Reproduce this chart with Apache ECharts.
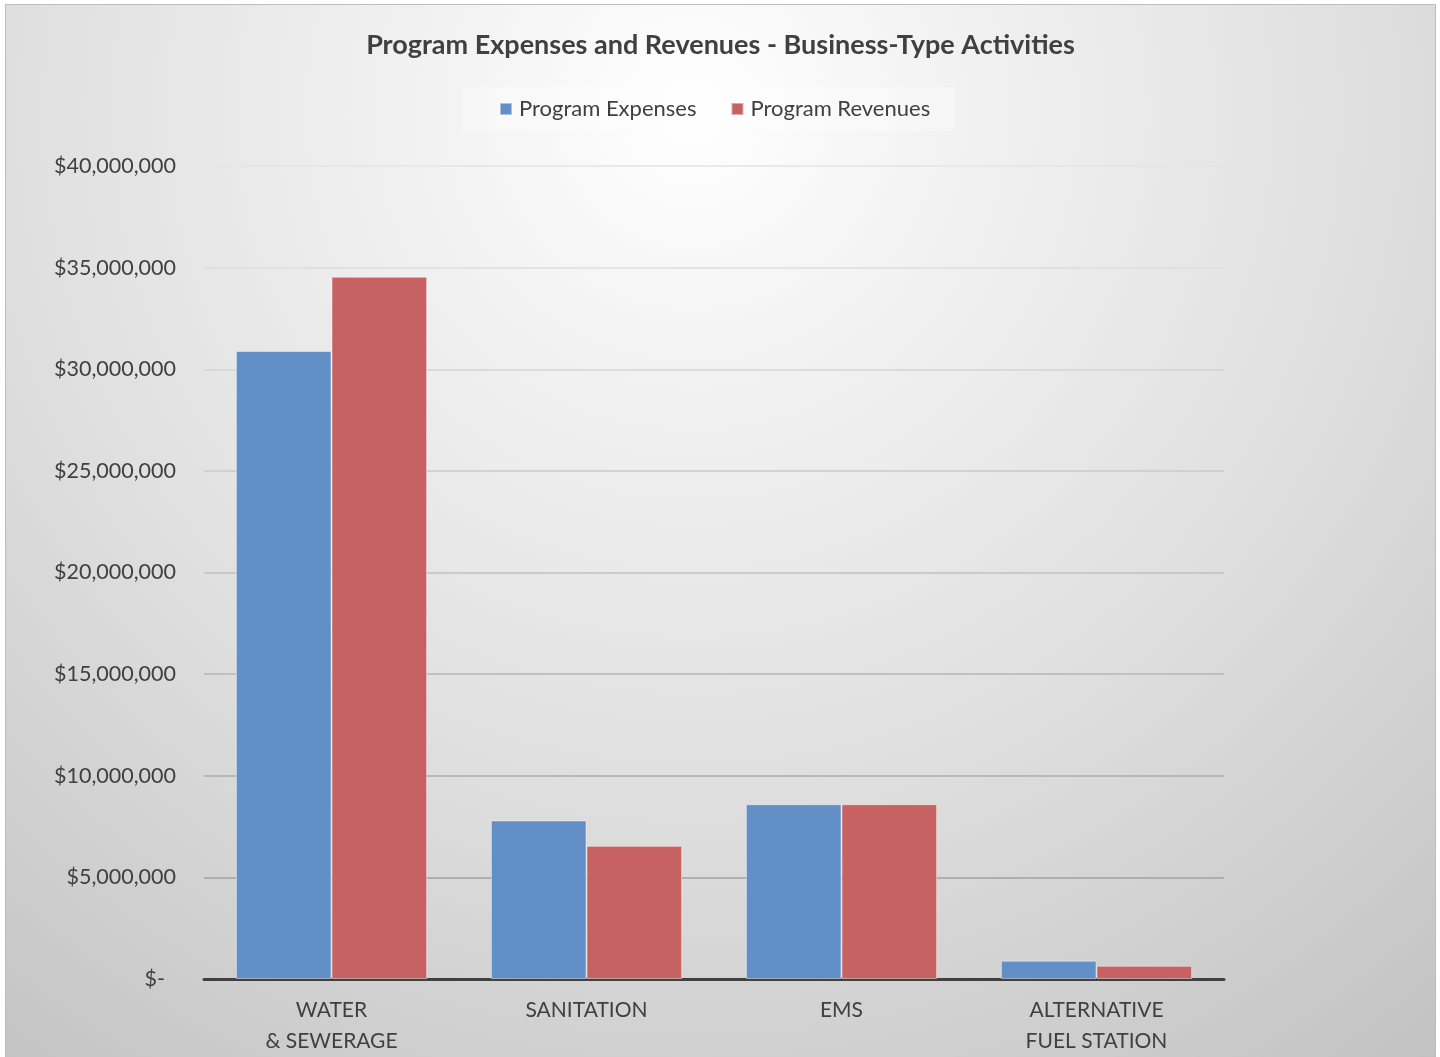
<!DOCTYPE html>
<html>
<head>
<meta charset="utf-8">
<script src="https://cdn.jsdelivr.net/npm/echarts@6/dist/echarts.min.js"></script>
<style>
html,body{margin:0;padding:0;background:#fff;width:1440px;height:1057px;overflow:hidden;}
#chart{position:absolute;left:5px;top:4px;width:1429px;height:1075px;border:1px solid #bdbdbd;border-bottom:none;}
</style>
</head>
<body>
<div id="chart"></div>
<script>
const titleText = 'Program Expenses and Revenues - Business-Type Activities';
const categories = ['WATER\n& SEWERAGE', 'SANITATION', 'EMS', 'ALTERNATIVE\nFUEL STATION'];
const seriesNames = ['Program Expenses', 'Program Revenues'];
const programExpenses = [30900000, 7800000, 8600000, 900000];
const programRevenues = [34550000, 6550000, 8600000, 650000];
const yMin = 0, yMax = 40000000, yInterval = 5000000;

const FONT = 'Lato';
const chart = echarts.init(document.getElementById('chart'), null, {renderer: 'canvas'});
const barBorder = {borderColor: 'rgba(255,255,255,0.45)', borderWidth: 1};

chart.setOption({
  animation: false,
  backgroundColor: {
    type: 'radial', x: 0.48, y: 0.1, r: 1.12,
    colorStops: [
      {offset: 0, color: '#ffffff'},
      {offset: 0.2, color: '#f3f3f3'},
      {offset: 0.55, color: '#e0e0e0'},
      {offset: 1, color: '#c2c2c2'}
    ]
  },
  title: {
    text: titleText, left: 'center', top: 22,
    textStyle: {fontFamily: FONT, fontWeight: 'bold', fontSize: 27, color: '#404040'}
  },
  legend: {
    data: seriesNames,
    icon: 'rect',
    left: 456, top: 82,
    padding: [11, 25, 11, 37],
    backgroundColor: 'rgba(255,255,255,0.3)',
    itemWidth: 12, itemHeight: 12, itemGap: 34,
    textStyle: {fontFamily: FONT, fontSize: 22, color: '#404040', padding: [0, 0, 0, 2]}
  },
  grid: {left: 198, right: 211, top: 161, bottom: 101, containLabel: false},
  xAxis: {
    type: 'category', data: categories,
    axisLine: {lineStyle: {color: '#404040', width: 3}},
    axisTick: {show: false},
    axisLabel: {fontFamily: FONT, fontSize: 21, color: '#404040', margin: 16, lineHeight: 31}
  },
  yAxis: {
    type: 'value', min: yMin, max: yMax, interval: yInterval,
    axisLine: {show: false}, axisTick: {show: false},
    splitLine: {lineStyle: {width: 1.5, color: ['#9c9c9c', '#a2a2a2', '#acacac', '#b6b6b6', '#c0c0c0', '#cacaca', '#d4d4d4', '#dedede', '#e4e4e4']}},
    axisLabel: {
      fontFamily: FONT, fontSize: 21.5, color: '#404040', margin: 28,
      formatter: v => v === 0 ? '{z|$-}' : '$' + v.toLocaleString('en-US'),
      rich: {z: {fontFamily: FONT, fontSize: 21.5, color: '#404040', padding: [0, 11, 0, 0]}}
    }
  },
  series: [
    {name: seriesNames[0], type: 'bar', data: programExpenses, barGap: '0%', barCategoryGap: '25%',
     itemStyle: Object.assign({color: '#6290c6'}, barBorder)},
    {name: seriesNames[1], type: 'bar', data: programRevenues, barGap: '0%', barCategoryGap: '25%',
     itemStyle: Object.assign({color: '#c86262'}, barBorder)}
  ]
});
</script>
</body>
</html>
